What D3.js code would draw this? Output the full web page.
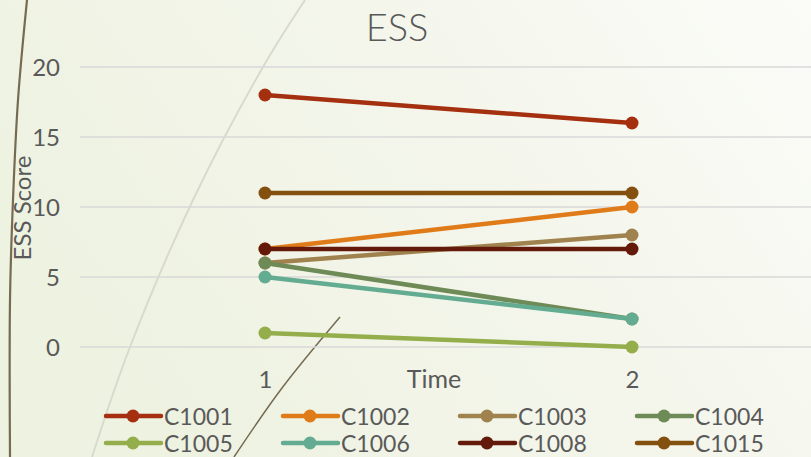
<!DOCTYPE html>
<html>
<head>
<meta charset="utf-8">
<script src="https://cdn.jsdelivr.net/npm/d3@7"></script>
<style>
  html, body { margin: 0; padding: 0; background: #f4f6ec; }
  svg { display: block; }
  text { font-family: "Lato", "Open Sans", sans-serif; }
</style>
</head>
<body>
<svg id="chart" width="811" height="457"></svg>
<script>
// ESS scores per participant at two time points
const timePoints = ["1", "2"];
const participants = ["C1001", "C1002", "C1003", "C1004", "C1005", "C1006", "C1008", "C1015"];
const scoresT1 = [18, 7, 6, 6, 1, 5, 7, 11];
const scoresT2 = [16, 10, 8, 2, 0, 2, 7, 11];
const seriesColors = ["#A5300F", "#E07B1A", "#A0824F", "#6E8A56", "#94AE4B", "#63AC92", "#641A0B", "#84500F"];
const yTicks = [0, 5, 10, 15, 20];

const W = 811, H = 457;
const FONT = "Lato, 'Open Sans', sans-serif";
const svg = d3.select("#chart");

// Background wash and decorative theme strokes
const defs = svg.append("defs");
const grad = defs.append("linearGradient").attr("id", "bg")
  .attr("x1", "0%").attr("y1", "40%").attr("x2", "100%").attr("y2", "0%");
grad.append("stop").attr("offset", "0%").attr("stop-color", "#eef2e1");
grad.append("stop").attr("offset", "55%").attr("stop-color", "#f4f6ec");
grad.append("stop").attr("offset", "100%").attr("stop-color", "#fbfcf8");
svg.append("rect").attr("width", W).attr("height", H).attr("fill", "url(#bg)");

const deco = d3.line().curve(d3.curveCatmullRom);
svg.append("path")
  .attr("d", deco([[27, 0], [18, 100], [13, 200], [10, 300], [10, 457]]))
  .attr("fill", "none").attr("stroke", "#756b52").attr("stroke-width", 2.2);
svg.append("path")
  .attr("d", deco([[305, 0], [263, 67], [193, 200], [130, 347], [92, 457]]))
  .attr("fill", "none").attr("stroke", "#d9dacd").attr("stroke-width", 2);
svg.append("path")
  .attr("d", deco([[340, 317], [282, 388], [234, 457]]))
  .attr("fill", "none").attr("stroke", "#756b52").attr("stroke-width", 1.5);

// Scales
const x = d3.scalePoint().domain(timePoints).range([265, 632]);
const y = d3.scaleLinear().domain([0, 20]).range([347, 67]);

// Gridlines
svg.append("g").selectAll("line").data(yTicks).join("line")
  .attr("x1", 80).attr("x2", W)
  .attr("y1", d => y(d)).attr("y2", d => y(d))
  .attr("stroke", "#d9d9d9").attr("stroke-width", 1.5);

// Y axis labels
const yAxis = svg.append("g").attr("transform", "translate(60,0)")
  .call(d3.axisLeft(y).tickValues(yTicks).tickSize(0).tickPadding(0));
yAxis.select(".domain").remove();
yAxis.selectAll("text").attr("fill", "#595959").attr("dy", "0.36em")
  .style("font-size", "24px").style("font-family", FONT);

// X axis labels
const xAxis = svg.append("g").attr("transform", "translate(0,370)")
  .call(d3.axisBottom(x).tickSize(0).tickPadding(0));
xAxis.select(".domain").remove();
xAxis.selectAll("text").attr("fill", "#595959").attr("dy", "0.74em")
  .style("font-size", "24px").style("font-family", FONT);

// Titles
svg.append("text").attr("x", 397).attr("y", 41).attr("text-anchor", "middle")
  .attr("fill", "#595959").style("font-size", "38px").style("font-weight", 300).text("ESS");
svg.append("text").attr("x", 434).attr("y", 388).attr("text-anchor", "middle")
  .attr("fill", "#595959").style("font-size", "25px").text("Time");
svg.append("text").attr("transform", "translate(31,208) rotate(-90)").attr("text-anchor", "middle")
  .attr("fill", "#595959").style("font-size", "24px").text("ESS Score");

// Series lines with markers
const series = participants.map((name, i) => ({
  name, color: seriesColors[i],
  values: [{t: timePoints[0], v: scoresT1[i]}, {t: timePoints[1], v: scoresT2[i]}]
}));
const line = d3.line().x(d => x(d.t)).y(d => y(d.v));
const sg = svg.append("g").selectAll("g").data(series).join("g");
sg.append("path").attr("d", d => line(d.values))
  .attr("fill", "none").attr("stroke", d => d.color).attr("stroke-width", 4.5)
  .attr("stroke-linecap", "round");
sg.selectAll("circle").data(d => d.values.map(v => ({...v, color: d.color}))).join("circle")
  .attr("cx", d => x(d.t)).attr("cy", d => y(d.v)).attr("r", 6.5)
  .attr("fill", d => d.color);

// Legend (two rows of four)
const legend = svg.append("g").selectAll("g").data(series).join("g")
  .attr("transform", (d, i) => `translate(${105 + (i % 4) * 177},${416 + Math.floor(i / 4) * 27})`);
legend.append("line").attr("x1", 1).attr("x2", 56).attr("y1", 0).attr("y2", 0)
  .attr("stroke", d => d.color).attr("stroke-width", 4.5).attr("stroke-linecap", "round");
legend.append("circle").attr("cx", 28).attr("cy", 0).attr("r", 6.5).attr("fill", d => d.color);
legend.append("text").attr("x", 59).attr("y", 8.5).attr("fill", "#595959")
  .style("font-size", "23px").text(d => d.name);
</script>
</body>
</html>
